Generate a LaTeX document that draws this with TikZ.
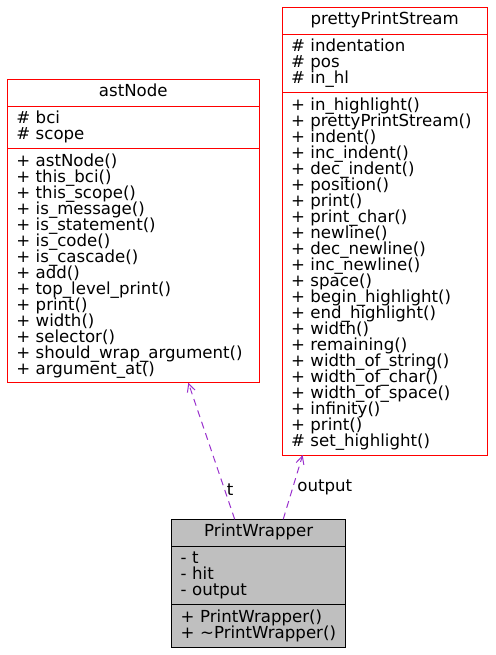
\documentclass[tikz,border=0pt]{standalone}
\usepackage{fontspec}
\setmainfont{DejaVu Sans}
\usetikzlibrary{positioning,arrows.meta}

\definecolor{edgepurple}{HTML}{9A32CD}
\newcommand{\umlsize}{\fontsize{16.6}{16}\selectfont
  \normallineskip=0pt\lineskip=0pt\lineskiplimit=-100pt}
\tikzset{
  umlpart/.style={rectangle, draw=red, fill=white, line width=0.8pt, outer sep=0pt,
    inner xsep=9pt, inner ysep=0pt, align=left, font=\umlsize},
  umltitle/.style={umlpart, align=center, text height=12pt, text depth=4pt},
  focus/.style={draw=black, fill=black!25},
  usage/.style={draw=edgepurple, line width=1pt, dash pattern=on 7pt off 5pt,
    -{Straight Barb[length=8pt,width=8pt]}},
  usagelabel/.style={font=\umlsize, text=black, inner sep=2pt, anchor=west}
}

\begin{document}
\begin{tikzpicture}[x=1pt, y=-1pt]
  \useasboundingbox (0,0) rectangle (495,655);

  % astNode
  \node[umltitle, text width=234pt, minimum height=26.7pt, anchor=north west] (ast) at (7.3,79.3) {astNode};
  \node[umlpart, text width=234pt, minimum height=42.7pt, below=0pt of ast] (astattr) {\# bci\\\# scope};
  \node[umlpart, text width=234pt, minimum height=234pt, below=0pt of astattr] (astops)
    {+ astNode()\\+ this\_bci()\\+ this\_scope()\\+ is\_message()\\+ is\_statement()\\+ is\_code()\\+ is\_cascade()\\+ add()\\+ top\_level\_print()\\+ print()\\+ width()\\+ selector()\\+ should\_wrap\_argument()\\+ argument\_at()};

  % prettyPrintStream
  \node[umltitle, text width=187.3pt, minimum height=26.7pt, anchor=north west] (pps) at (282,7.3) {prettyPrintStream};
  \node[umlpart, text width=187.3pt, minimum height=58.7pt, below=0pt of pps] (ppsattr) {\# indentation\\\# pos\\\# in\_hl};
  \node[umlpart, text width=187.3pt, minimum height=362.3pt, below=0pt of ppsattr] (ppsops)
    {+ in\_highlight()\\+ prettyPrintStream()\\+ indent()\\+ inc\_indent()\\+ dec\_indent()\\+ position()\\+ print()\\+ print\_char()\\+ newline()\\+ dec\_newline()\\+ inc\_newline()\\+ space()\\+ begin\_highlight()\\+ end\_highlight()\\+ width()\\+ remaining()\\+ width\_of\_string()\\+ width\_of\_char()\\+ width\_of\_space()\\+ infinity()\\+ print()\\\# set\_highlight()};

  % PrintWrapper
  \node[umltitle, focus, text width=156pt, minimum height=26.7pt, anchor=north west] (pw) at (171.7,519.3) {PrintWrapper};
  \node[umlpart, focus, text width=156pt, minimum height=58.3pt, below=0pt of pw] (pwattr) {- t\\- hit\\- output};
  \node[umlpart, focus, text width=156pt, minimum height=43pt, below=0pt of pwattr] (pwops) {+ PrintWrapper()\\+ \textasciitilde PrintWrapper()};

  % usage edges
  \draw[usage] ([xshift=-24pt]pw.north) -- node[usagelabel, pos=0.22] {t} ([xshift=55pt]astops.south);
  \draw[usage] ([xshift=24.5pt]pw.north) -- node[usagelabel, pos=0.5, xshift=2pt] {output} ([xshift=-82pt]ppsops.south);
\end{tikzpicture}
\end{document}
